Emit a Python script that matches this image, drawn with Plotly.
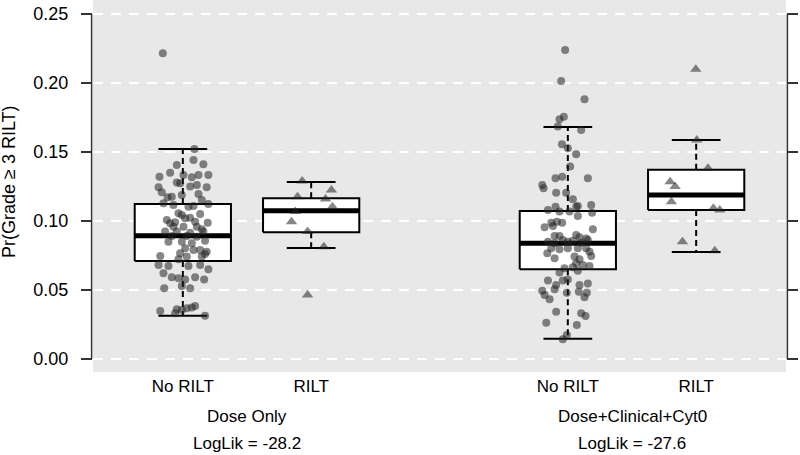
import plotly.graph_objects as go

# ---------------- data ----------------
positions = [1, 2, 4, 5]
tick_labels = ["No RILT", "RILT", "No RILT", "RILT"]
group_names = ["Dose Only", "Dose+Clinical+Cyt0"]
group_loglik = ["LogLik = -28.2", "LogLik = -27.6"]
group_centers = [1.5, 4.5]

# box statistics: lower whisker, q1, median, q3, upper whisker
box_lo = [0.0314, 0.0804, 0.0147, 0.0775]
box_q1 = [0.0710, 0.0918, 0.0650, 0.1080]
box_med = [0.0893, 0.1075, 0.0838, 0.1188]
box_q3 = [0.1123, 0.1164, 0.1072, 0.1372]
box_hi = [0.1522, 0.1283, 0.1681, 0.1587]

dose_norilt_y = [
    0.2215, 0.1522, 0.1406, 0.1442, 0.1411, 0.1321, 0.1350, 0.1333, 0.1316, 0.1333,
    0.1333, 0.1278, 0.1273, 0.1249, 0.1261, 0.1244, 0.1244, 0.1208, 0.1176, 0.1196,
    0.1188, 0.1172, 0.1152, 0.1128, 0.1116, 0.1104, 0.1123, 0.1109, 0.1056, 0.1044,
    0.1051, 0.1019, 0.1024, 0.1007, 0.0990, 0.0983, 0.0995, 0.0988, 0.0959, 0.0959,
    0.0959, 0.0940, 0.0923, 0.0923, 0.0915, 0.0923, 0.0891, 0.0891, 0.0886, 0.0850,
    0.0850, 0.0838, 0.0857, 0.0802, 0.0790, 0.0790, 0.0778, 0.0766, 0.0761, 0.0742,
    0.0746, 0.0742, 0.0722, 0.0681, 0.0674, 0.0674, 0.0681, 0.0650, 0.0621, 0.0592,
    0.0585, 0.0577, 0.0592, 0.0577, 0.0529, 0.0512, 0.0512, 0.0348, 0.0360, 0.0355,
    0.0367, 0.0374, 0.0384, 0.0314, 0.0331]
dose_norilt_jitter = [
    -0.156, 0.090, -0.047, 0.083, 0.160, -0.182, -0.099, 0.005, 0.070, 0.122,
    0.199, -0.047, -0.021, 0.057, 0.109, 0.186, -0.189, -0.164, -0.086, 0.122,
    -0.008, -0.119, 0.148, -0.151, -0.073, 0.044, 0.199, 0.083, -0.034, -0.008,
    0.135, 0.018, 0.057, -0.125, -0.060, -0.099, 0.096, 0.194, -0.073, 0.005,
    0.109, 0.148, -0.138, -0.047, 0.057, 0.160, -0.086, 0.031, 0.109, -0.112,
    -0.008, 0.070, 0.173, 0.018, 0.083, 0.135, 0.186, -0.021, 0.173, 0.148,
    -0.176, 0.031, -0.034, -0.189, -0.112, 0.044, 0.135, 0.199, -0.151, -0.086,
    -0.034, 0.018, 0.096, 0.166, -0.008, 0.057, -0.145, -0.176, -0.047, -0.008,
    0.031, 0.070, 0.096, 0.173, -0.060]

dose_rilt_y = [0.1290, 0.1225, 0.1176, 0.1159, 0.1104, 0.1068, 0.0995, 0.0923, 0.0814, 0.0464]
dose_rilt_jitter = [-0.070, 0.158, -0.106, 0.112, 0.166, -0.124, -0.153, -0.028, 0.099, -0.028]

full_norilt_y = [
    0.2239, 0.2015, 0.1882, 0.1737, 0.1756, 0.1684, 0.1660, 0.1556, 0.1527, 0.1483,
    0.1394, 0.1309, 0.1321, 0.1309, 0.1261, 0.1237, 0.1205, 0.1205, 0.1157, 0.1104,
    0.1080, 0.1068, 0.1068, 0.1104, 0.1109, 0.1116, 0.1060, 0.1036, 0.0988, 0.0995,
    0.0988, 0.0954, 0.0964, 0.0940, 0.0891, 0.0899, 0.0882, 0.0874, 0.0891, 0.0850,
    0.0838, 0.0862, 0.0850, 0.0857, 0.0843, 0.0862, 0.0802, 0.0795, 0.0802, 0.0802,
    0.0802, 0.0778, 0.0766, 0.0742, 0.0722, 0.0746, 0.0730, 0.0693, 0.0681, 0.0674,
    0.0664, 0.0657, 0.0626, 0.0640, 0.0568, 0.0568, 0.0577, 0.0536, 0.0536, 0.0548,
    0.0495, 0.0464, 0.0433, 0.0505, 0.0481, 0.0488, 0.0481, 0.0447, 0.0343, 0.0331,
    0.0312, 0.0263, 0.0247, 0.0143, 0.0174]
full_norilt_jitter = [
    -0.021, -0.052, 0.130, -0.065, -0.031, -0.078, 0.104, -0.046, 0.000, 0.065,
    0.018, -0.096, -0.044, 0.156, -0.199, -0.189, -0.091, -0.013, 0.039, -0.096,
    -0.155, -0.065, 0.013, 0.065, 0.078, 0.182, 0.189, 0.078, -0.129, -0.085,
    -0.044, -0.181, -0.116, 0.195, -0.065, 0.065, 0.091, 0.143, -0.103, -0.155,
    -0.103, -0.039, 0.000, 0.039, 0.104, 0.156, -0.129, -0.065, 0.000, 0.078,
    0.143, 0.169, -0.160, 0.052, 0.091, 0.182, -0.103, 0.065, 0.117, 0.169,
    0.039, -0.026, -0.065, 0.078, -0.155, -0.039, 0.000, -0.091, 0.091, 0.156,
    -0.199, -0.181, -0.142, -0.103, -0.008, 0.086, 0.148, 0.130, -0.091, 0.104,
    0.138, -0.168, 0.070, -0.039, -0.008]

full_rilt_y = [0.2099, 0.1587, 0.1382, 0.1285, 0.1249, 0.1140, 0.1092, 0.1080, 0.0850, 0.0785]
full_rilt_jitter = [-0.003, 0.005, 0.092, -0.203, -0.164, -0.193, 0.134, 0.184, -0.107, 0.145]

y_ticks = [0.00, 0.05, 0.10, 0.15, 0.20, 0.25]

# ---------------- styling ----------------
FONT = "Liberation Sans, Arial, Helvetica, sans-serif"
BOX_HALF = 0.375
CAP_HALF = 0.19
PT_COLOR = "rgba(35,35,35,0.55)"

fig = go.Figure()

# boxes
for i, c in enumerate(positions):
    fig.add_trace(go.Scatter(
        x=[c, c, None, c, c], y=[box_q3[i], box_hi[i], None, box_q1[i], box_lo[i]],
        mode="lines", line=dict(color="black", width=2, dash="6px,4px"),
        hoverinfo="skip", showlegend=False))
    fig.add_trace(go.Scatter(
        x=[c - CAP_HALF, c + CAP_HALF, None, c - CAP_HALF, c + CAP_HALF],
        y=[box_hi[i], box_hi[i], None, box_lo[i], box_lo[i]],
        mode="lines", line=dict(color="black", width=2),
        hoverinfo="skip", showlegend=False))
    fig.add_trace(go.Scatter(
        x=[c - BOX_HALF, c + BOX_HALF, c + BOX_HALF, c - BOX_HALF, c - BOX_HALF],
        y=[box_q1[i], box_q1[i], box_q3[i], box_q3[i], box_q1[i]],
        mode="lines", fill="toself", fillcolor="white",
        line=dict(color="black", width=2),
        hoverinfo="skip", showlegend=False))
    fig.add_trace(go.Scatter(
        x=[c - BOX_HALF, c + BOX_HALF], y=[box_med[i], box_med[i]],
        mode="lines", line=dict(color="black", width=5),
        hoverinfo="skip", showlegend=False))

# points
point_sets = [
    (positions[0], dose_norilt_y, dose_norilt_jitter, "circle", 8),
    (positions[1], dose_rilt_y, dose_rilt_jitter, "triangle-up", 10),
    (positions[2], full_norilt_y, full_norilt_jitter, "circle", 8),
    (positions[3], full_rilt_y, full_rilt_jitter, "triangle-up", 10),
]
for c, ys, js, sym, sz in point_sets:
    n = min(len(ys), len(js))
    fig.add_trace(go.Scatter(
        x=[c + js[k] for k in range(n)], y=ys[:n], mode="markers",
        marker=dict(symbol=sym, size=sz, color=PT_COLOR, line=dict(width=0)),
        showlegend=False))

# invisible trace for right axis
fig.add_trace(go.Scatter(x=[positions[0]], y=[y_ticks[0]], yaxis="y2", mode="markers",
                         marker=dict(opacity=0), hoverinfo="skip", showlegend=False))

yr = [-0.0094, 0.2601]
fig.update_layout(
    width=800, height=455,
    margin=dict(l=93, r=14, t=0, b=83),
    paper_bgcolor="white", plot_bgcolor="#e8e8e8",
    font=dict(family=FONT, size=17, color="black"),
    xaxis=dict(range=[0.3, 5.7], tickvals=positions, ticktext=tick_labels,
               showgrid=False, zeroline=False, showline=False, ticks="",
               ticklabelstandoff=2, tickfont=dict(size=17)),
    yaxis=dict(range=yr, tickvals=y_ticks, ticktext=[f"{v:.2f}" for v in y_ticks],
               showgrid=True, gridcolor="white", gridwidth=2, griddash="10px,8px",
               zeroline=False, showline=False, ticks="outside", ticklen=11,
               tickwidth=1.5, tickcolor="#333", ticklabelstandoff=9,
               tickfont=dict(size=18)),
    yaxis2=dict(range=yr, tickvals=y_ticks, overlaying="y", side="right",
                showticklabels=False, showgrid=False, zeroline=False, showline=False,
                ticks="outside", ticklen=11, tickwidth=1.5, tickcolor="#333"),
    shapes=[
        dict(type="line", xref="paper", yref="y", x0=-0.002, x1=-0.002, y0=0, y1=0.25,
             line=dict(color="#333", width=1.5)),
        dict(type="line", xref="paper", yref="y", x0=1.002, x1=1.002, y0=0, y1=0.25,
             line=dict(color="#333", width=1.5)),
    ],
    annotations=[
        dict(text="Pr(Grade \u2265 3 RILT)", textangle=-90, xref="paper", yref="paper",
             x=0, y=0.5, xanchor="center", yanchor="middle", xshift=-84, yshift=4,
             showarrow=False, font=dict(size=18)),
    ] + [
        dict(text=group_names[g], xref="x", yref="paper", x=group_centers[g], y=0,
             yanchor="middle", yshift=-44, showarrow=False, font=dict(size=17))
        for g in range(2)
    ] + [
        dict(text=group_loglik[g], xref="x", yref="paper", x=group_centers[g], y=0,
             yanchor="middle", yshift=-71, showarrow=False, font=dict(size=17))
        for g in range(2)
    ],
)

fig.write_html("out.html", config={"displayModeBar": False},
               post_script="document.body.style.margin='0';document.body.style.overflow='hidden';")
